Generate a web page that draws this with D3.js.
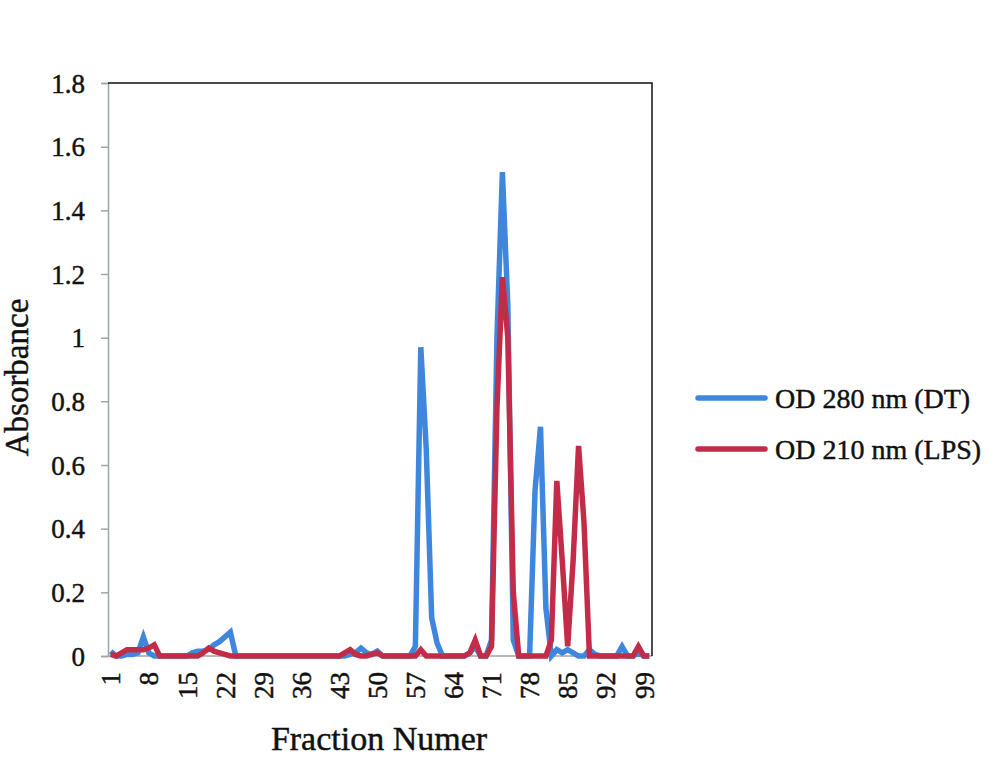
<!DOCTYPE html>
<html>
<head>
<meta charset="utf-8">
<script src="https://cdn.jsdelivr.net/npm/d3@7"></script>
<style>
  html, body { margin: 0; padding: 0; background: #fff; }
  svg { display: block; }
  text { font-family: "Liberation Serif", "DejaVu Serif", serif; fill: #111; stroke: #111; stroke-width: 0.45px; }
</style>
</head>
<body>
<svg id="chart" width="1000" height="757"></svg>
<script>
// ---- Data ----
const fractions = d3.range(1, 101);
const xTickLabels = [1, 8, 15, 22, 29, 36, 43, 50, 57, 64, 71, 78, 85, 92, 99];
const yTickValues = [0, 0.2, 0.4, 0.6, 0.8, 1, 1.2, 1.4, 1.6, 1.8];
const yTickLabels = ["0", "0.2", "0.4", "0.6", "0.8", "1", "1.2", "1.4", "1.6", "1.8"];
const seriesNames = ["OD 280 nm (DT)", "OD 210 nm (LPS)"];

// OD 280 nm (DT), fractions 1..100
const od280 = [
  0.015, 0, 0, 0.005, 0.005, 0.01, 0.06, 0.01, 0, 0,          // 1-10
  0, 0, 0, 0, 0, 0.01, 0.015, 0.015, 0.02, 0.035,             // 11-20
  0.045, 0.06, 0.075, 0, 0, 0, 0, 0, 0, 0,                    // 21-30
  0, 0, 0, 0, 0, 0, 0, 0, 0, 0,                               // 31-40
  0, 0, 0, 0, 0.005, 0.01, 0.025, 0.01, 0.005, 0.015,         // 41-50
  0, 0, 0, 0, 0, 0, 0.03, 0.97, 0.65, 0.12,                   // 51-60
  0.04, 0, 0, 0, 0, 0, 0.01, 0.03, 0, 0,                      // 61-70
  0.05, 1.0, 1.52, 1.1, 0.05, 0, 0, 0, 0.52, 0.72,            // 71-80
  0.15, 0, 0.02, 0.01, 0.02, 0.01, 0, 0, 0.02, 0.005,         // 81-90
  0, 0, 0, 0, 0.03, 0, 0, 0.01, 0, 0                          // 91-100
];

// OD 210 nm (LPS), fractions 1..100
const od210 = [
  0.005, 0, 0.01, 0.02, 0.02, 0.02, 0.02, 0.025, 0.035, 0,    // 1-10
  0, 0, 0, 0, 0, 0, 0, 0.01, 0.025, 0.015,                    // 11-20
  0.01, 0.005, 0, 0, 0, 0, 0, 0, 0, 0,                        // 21-30
  0, 0, 0, 0, 0, 0, 0, 0, 0, 0,                               // 31-40
  0, 0, 0, 0.01, 0.02, 0.005, 0, 0, 0.005, 0.01,              // 41-50
  0, 0, 0, 0, 0, 0, 0, 0.02, 0, 0,                            // 51-60
  0, 0, 0, 0, 0, 0, 0.01, 0.05, 0, 0,                         // 61-70
  0.03, 0.78, 1.19, 1.0, 0.2, 0, 0, 0, 0, 0,                  // 71-80
  0, 0.05, 0.55, 0.3, 0.03, 0.3, 0.66, 0.42, 0, 0,            // 81-90
  0, 0, 0, 0, 0, 0, 0, 0.03, 0, 0                             // 91-100
];

const seriesColors = ["#3f87dc", "#c22c48"];

// ---- Layout ----
const svg = d3.select("#chart");
const plot = { left: 108, right: 652, top: 83, bottom: 656 };

const x = d3.scalePoint().domain(fractions).range([plot.left, plot.right]).padding(0.5);
const y = d3.scaleLinear().domain([0, 1.8]).range([plot.bottom, plot.top]);

svg.append("rect").attr("width", 1000).attr("height", 757).attr("fill", "#fff");

// Y axis
const yAxis = d3.axisLeft(y)
  .tickValues(yTickValues)
  .tickFormat((d, i) => yTickLabels[i])
  .tickSizeOuter(0)
  .tickSize(7)
  .tickPadding(16);
const gy = svg.append("g").attr("transform", `translate(${plot.left},0)`).call(yAxis);
gy.select(".domain").attr("stroke", "#9ea6a6").attr("stroke-width", 1.5);
gy.selectAll(".tick line").attr("stroke", "#9ea6a6").attr("stroke-width", 1.5);
gy.selectAll(".tick text")
  .style("font-family", "'Liberation Serif', serif")
  .style("font-size", "27px").attr("fill", "#111").attr("dy", "0.34em");

// X axis
const xAxis = d3.axisBottom(x).tickValues(xTickLabels).tickSize(0).tickSizeOuter(0).tickPadding(0);
const gx = svg.append("g").attr("transform", `translate(0,${plot.bottom})`).call(xAxis);
gx.select(".domain").attr("stroke", "#9ea6a6").attr("stroke-width", 1.5)
  .attr("d", `M${plot.left},0H${plot.right}`);
gx.selectAll(".tick text")
  .style("font-family", "'Liberation Serif', serif")
  .style("font-size", "27px").attr("fill", "#111")
  .attr("text-anchor", "end")
  .attr("transform", "rotate(-90)")
  .attr("x", -16).attr("y", 0).attr("dy", "0.34em");

// Top and right border
svg.append("path")
  .attr("d", `M${plot.left},${plot.top}H${plot.right}V${plot.bottom}`)
  .attr("fill", "none").attr("stroke", "#111").attr("stroke-width", 1.5);

// Lines
const line = d3.line().x((d, i) => x(fractions[i])).y(d => y(d));
[od280, od210].forEach((s, k) => {
  svg.append("path")
    .datum(s)
    .attr("d", line)
    .attr("fill", "none")
    .attr("stroke", seriesColors[k])
    .attr("stroke-width", 5.5)
    .attr("stroke-linejoin", "miter");
});

// Axis titles
svg.append("text")
  .attr("transform", `translate(28,${(plot.top + plot.bottom) / 2 + 8}) rotate(-90)`)
  .attr("text-anchor", "middle")
  .style("font-size", "33px")
  .text("Absorbance");

svg.append("text")
  .attr("x", 379).attr("y", 750)
  .attr("text-anchor", "middle")
  .style("font-size", "34px")
  .text("Fraction Numer");

// Legend
const legendY = [398, 449];
seriesNames.forEach((name, k) => {
  svg.append("line")
    .attr("x1", 698).attr("x2", 765)
    .attr("y1", legendY[k]).attr("y2", legendY[k])
    .attr("stroke", seriesColors[k]).attr("stroke-width", 5.5)
    .attr("stroke-linecap", "round");
  svg.append("text")
    .attr("x", 775).attr("y", legendY[k]).attr("dy", "0.34em")
    .style("font-size", "28px")
    .text(name);
});
</script>
</body>
</html>
